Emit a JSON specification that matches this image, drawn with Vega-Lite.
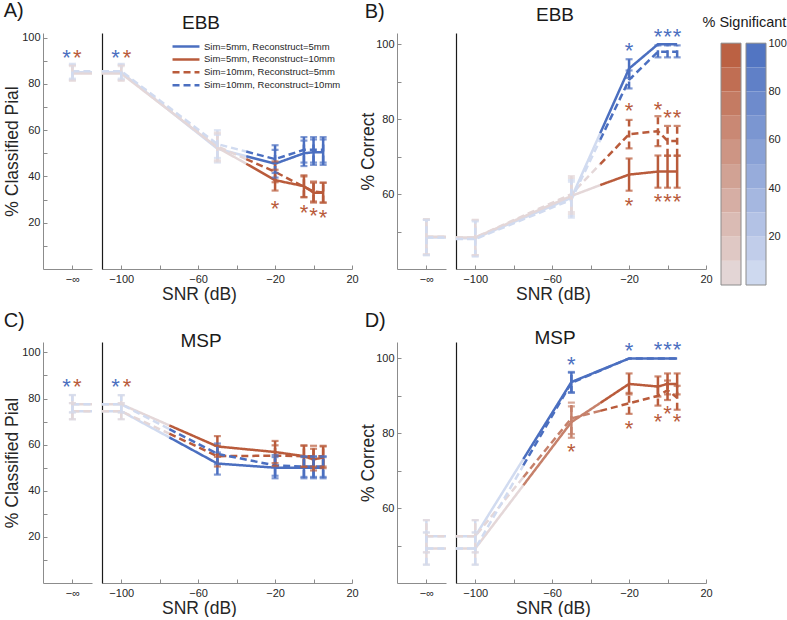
{
 "$schema": "https://vega.github.io/schema/vega-lite/v6.json",
 "background": "white",
 "padding": {"left": 3, "top": 0, "right": 0, "bottom": 0},
 "title": {"text": "% Significant", "anchor": "end", "fontSize": 14.5, "offset": -30, "fontWeight": "normal", "color": "#1a1a1a"},
 "config": {
  "font": "Liberation Sans",
  "view": {"stroke": null},
  "axis": {"grid": false, "domainColor": "#8c8c8c", "tickColor": "#8c8c8c", "tickSize": -4, "labelPadding": 7, "labelColor": "#262626", "labelFontSize": 11, "titleFontSize": 17.5, "titleFontWeight": "normal", "titleColor": "#262626", "labelFlush": false, "labelOverlap": false},
  "axisX": {"labelPadding": 8.5, "titlePadding": 1},
  "title": {"fontWeight": "normal", "color": "#1a1a1a"}
 },
 "datasets": {
  "L": [
   {"p":"A","c":"a","g":"i","r":"i","x":0,"y":85,"s":3},{"p":"A","c":"a","g":"i","r":"i","x":10,"y":85,"s":3},
   {"p":"A","c":"b","g":"i","r":"i","x":0,"y":84.5,"s":-3},{"p":"A","c":"b","g":"i","r":"i","x":10,"y":84.5,"s":-3},
   {"p":"A","c":"c","g":"i","r":"i","x":0,"y":85,"s":-3},{"p":"A","c":"c","g":"i","r":"i","x":10,"y":85,"s":-3},
   {"p":"A","c":"d","g":"i","r":"i","x":0,"y":85.5,"s":3},{"p":"A","c":"d","g":"i","r":"i","x":10,"y":85.5,"s":3},
   {"p":"A","c":"a","g":"m","r":"f","x":-110,"y":85,"s":3},{"p":"A","c":"a","g":"m","r":"f","x":-100,"y":85,"s":3},{"p":"A","c":"a","g":"m","r":"f","x":-50,"y":52,"s":3},{"p":"A","c":"a","g":"m","r":"f","x":-35,"y":48.75,"s":3},
   {"p":"A","c":"b","g":"m","r":"f","x":-110,"y":84.5,"s":-3},{"p":"A","c":"b","g":"m","r":"f","x":-100,"y":84.5,"s":-3},{"p":"A","c":"b","g":"m","r":"f","x":-50,"y":52.5,"s":-3},{"p":"A","c":"b","g":"m","r":"f","x":-35,"y":45.5,"s":-3},
   {"p":"A","c":"c","g":"m","r":"f","x":-110,"y":85,"s":-3},{"p":"A","c":"c","g":"m","r":"f","x":-100,"y":85,"s":-3},{"p":"A","c":"c","g":"m","r":"f","x":-50,"y":53,"s":-3},{"p":"A","c":"c","g":"m","r":"f","x":-35,"y":47.5,"s":-3},
   {"p":"A","c":"d","g":"m","r":"f","x":-110,"y":85.5,"s":3},{"p":"A","c":"d","g":"m","r":"f","x":-100,"y":85.5,"s":3},{"p":"A","c":"d","g":"m","r":"f","x":-50,"y":54,"s":3},{"p":"A","c":"d","g":"m","r":"f","x":-35,"y":50.75,"s":3},
   {"p":"A","c":"a","g":"m","r":"d","x":-35,"y":48.75,"s":100},{"p":"A","c":"a","g":"m","r":"d","x":-20,"y":45.5,"s":100},{"p":"A","c":"a","g":"m","r":"d","x":-5,"y":50,"s":100},{"p":"A","c":"a","g":"m","r":"d","x":0,"y":50.5,"s":100},{"p":"A","c":"a","g":"m","r":"d","x":5,"y":50.5,"s":100},
   {"p":"A","c":"b","g":"m","r":"d","x":-35,"y":45.5,"s":-100},{"p":"A","c":"b","g":"m","r":"d","x":-20,"y":38.4,"s":-100},{"p":"A","c":"b","g":"m","r":"d","x":-5,"y":35.8,"s":-100},{"p":"A","c":"b","g":"m","r":"d","x":0,"y":33,"s":-100},{"p":"A","c":"b","g":"m","r":"d","x":5,"y":33,"s":-100},
   {"p":"A","c":"c","g":"m","r":"d","x":-35,"y":47.5,"s":-100},{"p":"A","c":"c","g":"m","r":"d","x":-20,"y":42,"s":-100},{"p":"A","c":"c","g":"m","r":"d","x":-5,"y":35.5,"s":-100},{"p":"A","c":"c","g":"m","r":"d","x":0,"y":33.5,"s":-100},{"p":"A","c":"c","g":"m","r":"d","x":5,"y":33,"s":-100},
   {"p":"A","c":"d","g":"m","r":"d","x":-35,"y":50.75,"s":100},{"p":"A","c":"d","g":"m","r":"d","x":-20,"y":47.5,"s":100},{"p":"A","c":"d","g":"m","r":"d","x":-5,"y":51.5,"s":100},{"p":"A","c":"d","g":"m","r":"d","x":0,"y":51.5,"s":100},{"p":"A","c":"d","g":"m","r":"d","x":5,"y":51.5,"s":100},

   {"p":"B","c":"a","g":"i","r":"i","x":0,"y":48.4,"s":3},{"p":"B","c":"a","g":"i","r":"i","x":10,"y":48.4,"s":3},
   {"p":"B","c":"b","g":"i","r":"i","x":0,"y":48.6,"s":-3},{"p":"B","c":"b","g":"i","r":"i","x":10,"y":48.6,"s":-3},
   {"p":"B","c":"c","g":"i","r":"i","x":0,"y":48.6,"s":-3},{"p":"B","c":"c","g":"i","r":"i","x":10,"y":48.6,"s":-3},
   {"p":"B","c":"d","g":"i","r":"i","x":0,"y":48.4,"s":3},{"p":"B","c":"d","g":"i","r":"i","x":10,"y":48.4,"s":3},
   {"p":"B","c":"a","g":"m","r":"f","x":-110,"y":48.2,"s":3},{"p":"B","c":"a","g":"m","r":"f","x":-100,"y":48.2,"s":3},{"p":"B","c":"a","g":"m","r":"f","x":-50,"y":59,"s":3},{"p":"B","c":"a","g":"m","r":"f","x":-35,"y":76.25,"s":3},
   {"p":"B","c":"b","g":"m","r":"f","x":-110,"y":48.4,"s":-3},{"p":"B","c":"b","g":"m","r":"f","x":-100,"y":48.4,"s":-3},{"p":"B","c":"b","g":"m","r":"f","x":-50,"y":59.5,"s":-3},{"p":"B","c":"b","g":"m","r":"f","x":-35,"y":62.4,"s":-3},
   {"p":"B","c":"c","g":"m","r":"f","x":-110,"y":48.4,"s":-3},{"p":"B","c":"c","g":"m","r":"f","x":-100,"y":48.4,"s":-3},{"p":"B","c":"c","g":"m","r":"f","x":-50,"y":60,"s":-3},{"p":"B","c":"c","g":"m","r":"f","x":-35,"y":68,"s":-3},
   {"p":"B","c":"d","g":"m","r":"f","x":-110,"y":48,"s":3},{"p":"B","c":"d","g":"m","r":"f","x":-100,"y":48,"s":3},{"p":"B","c":"d","g":"m","r":"f","x":-50,"y":58.5,"s":3},{"p":"B","c":"d","g":"m","r":"f","x":-35,"y":74.5,"s":3},
   {"p":"B","c":"a","g":"m","r":"d","x":-35,"y":76.25,"s":100},{"p":"B","c":"a","g":"m","r":"d","x":-20,"y":93.5,"s":100},{"p":"B","c":"a","g":"m","r":"d","x":-5,"y":100,"s":100},{"p":"B","c":"a","g":"m","r":"d","x":0,"y":100,"s":100},{"p":"B","c":"a","g":"m","r":"d","x":5,"y":100,"s":100},
   {"p":"B","c":"b","g":"m","r":"d","x":-35,"y":62.4,"s":-100},{"p":"B","c":"b","g":"m","r":"d","x":-20,"y":65.2,"s":-100},{"p":"B","c":"b","g":"m","r":"d","x":-5,"y":66,"s":-100},{"p":"B","c":"b","g":"m","r":"d","x":0,"y":66,"s":-100},{"p":"B","c":"b","g":"m","r":"d","x":5,"y":66,"s":-100},
   {"p":"B","c":"c","g":"m","r":"d","x":-35,"y":68,"s":-100},{"p":"B","c":"c","g":"m","r":"d","x":-20,"y":76,"s":-100},{"p":"B","c":"c","g":"m","r":"d","x":-5,"y":76.8,"s":-100},{"p":"B","c":"c","g":"m","r":"d","x":0,"y":74.2,"s":-100},{"p":"B","c":"c","g":"m","r":"d","x":5,"y":74.2,"s":-100},
   {"p":"B","c":"d","g":"m","r":"d","x":-35,"y":74.5,"s":100},{"p":"B","c":"d","g":"m","r":"d","x":-20,"y":90.5,"s":100},{"p":"B","c":"d","g":"m","r":"d","x":-5,"y":98,"s":100},{"p":"B","c":"d","g":"m","r":"d","x":0,"y":98,"s":100},{"p":"B","c":"d","g":"m","r":"d","x":5,"y":98,"s":100},

   {"p":"C","c":"a","g":"i","r":"i","x":0,"y":74.5,"s":3},{"p":"C","c":"a","g":"i","r":"i","x":10,"y":74.5,"s":3},
   {"p":"C","c":"b","g":"i","r":"i","x":0,"y":77.5,"s":-3},{"p":"C","c":"b","g":"i","r":"i","x":10,"y":77.5,"s":-3},
   {"p":"C","c":"c","g":"i","r":"i","x":0,"y":74.5,"s":-3},{"p":"C","c":"c","g":"i","r":"i","x":10,"y":74.5,"s":-3},
   {"p":"C","c":"d","g":"i","r":"i","x":0,"y":77.5,"s":3},{"p":"C","c":"d","g":"i","r":"i","x":10,"y":77.5,"s":3},
   {"p":"C","c":"a","g":"m","r":"f","x":-110,"y":74.5,"s":3},{"p":"C","c":"a","g":"m","r":"f","x":-100,"y":74.5,"s":3},{"p":"C","c":"a","g":"m","r":"f","x":-75,"y":63.15,"s":3},
   {"p":"C","c":"b","g":"m","r":"f","x":-110,"y":77.5,"s":-3},{"p":"C","c":"b","g":"m","r":"f","x":-100,"y":77.5,"s":-3},{"p":"C","c":"b","g":"m","r":"f","x":-75,"y":68.35,"s":-3},
   {"p":"C","c":"c","g":"m","r":"f","x":-110,"y":74.5,"s":-3},{"p":"C","c":"c","g":"m","r":"f","x":-100,"y":74.5,"s":-3},{"p":"C","c":"c","g":"m","r":"f","x":-75,"y":64.75,"s":-3},
   {"p":"C","c":"d","g":"m","r":"f","x":-110,"y":77.5,"s":3},{"p":"C","c":"d","g":"m","r":"f","x":-100,"y":77.5,"s":3},{"p":"C","c":"d","g":"m","r":"f","x":-75,"y":66.75,"s":3},
   {"p":"C","c":"a","g":"m","r":"d","x":-75,"y":63.15,"s":100},{"p":"C","c":"a","g":"m","r":"d","x":-50,"y":51.8,"s":100},{"p":"C","c":"a","g":"m","r":"d","x":-20,"y":50,"s":100},{"p":"C","c":"a","g":"m","r":"d","x":-5,"y":50,"s":100},{"p":"C","c":"a","g":"m","r":"d","x":0,"y":50,"s":100},{"p":"C","c":"a","g":"m","r":"d","x":5,"y":50,"s":100},
   {"p":"C","c":"b","g":"m","r":"d","x":-75,"y":68.35,"s":-100},{"p":"C","c":"b","g":"m","r":"d","x":-50,"y":59.2,"s":-100},{"p":"C","c":"b","g":"m","r":"d","x":-20,"y":56.8,"s":-100},{"p":"C","c":"b","g":"m","r":"d","x":-5,"y":55,"s":-100},{"p":"C","c":"b","g":"m","r":"d","x":0,"y":53.5,"s":-100},{"p":"C","c":"b","g":"m","r":"d","x":5,"y":54.5,"s":-100},
   {"p":"C","c":"c","g":"m","r":"d","x":-75,"y":64.75,"s":-100},{"p":"C","c":"c","g":"m","r":"d","x":-50,"y":55,"s":-100},{"p":"C","c":"c","g":"m","r":"d","x":-20,"y":55.2,"s":-100},{"p":"C","c":"c","g":"m","r":"d","x":-5,"y":55,"s":-100},{"p":"C","c":"c","g":"m","r":"d","x":0,"y":55,"s":-100},{"p":"C","c":"c","g":"m","r":"d","x":5,"y":55,"s":-100},
   {"p":"C","c":"d","g":"m","r":"d","x":-75,"y":66.75,"s":100},{"p":"C","c":"d","g":"m","r":"d","x":-50,"y":56,"s":100},{"p":"C","c":"d","g":"m","r":"d","x":-20,"y":51,"s":100},{"p":"C","c":"d","g":"m","r":"d","x":-5,"y":50.5,"s":100},{"p":"C","c":"d","g":"m","r":"d","x":0,"y":50.5,"s":100},{"p":"C","c":"d","g":"m","r":"d","x":5,"y":50.5,"s":100},

   {"p":"D","c":"a","g":"i","r":"i","x":0,"y":52.5,"s":3},{"p":"D","c":"a","g":"i","r":"i","x":10,"y":52.5,"s":3},
   {"p":"D","c":"b","g":"i","r":"i","x":0,"y":49.2,"s":-3},{"p":"D","c":"b","g":"i","r":"i","x":10,"y":49.2,"s":-3},
   {"p":"D","c":"c","g":"i","r":"i","x":0,"y":52.5,"s":-3},{"p":"D","c":"c","g":"i","r":"i","x":10,"y":52.5,"s":-3},
   {"p":"D","c":"d","g":"i","r":"i","x":0,"y":49.2,"s":3},{"p":"D","c":"d","g":"i","r":"i","x":10,"y":49.2,"s":3},
   {"p":"D","c":"a","g":"m","r":"f","x":-110,"y":52.5,"s":3},{"p":"D","c":"a","g":"m","r":"f","x":-100,"y":52.5,"s":3},{"p":"D","c":"a","g":"m","r":"f","x":-75,"y":73.1,"s":3},
   {"p":"D","c":"b","g":"m","r":"f","x":-110,"y":49.2,"s":-3},{"p":"D","c":"b","g":"m","r":"f","x":-100,"y":49.2,"s":-3},{"p":"D","c":"b","g":"m","r":"f","x":-75,"y":66.1,"s":-3},
   {"p":"D","c":"c","g":"m","r":"f","x":-110,"y":52.5,"s":-3},{"p":"D","c":"c","g":"m","r":"f","x":-100,"y":52.5,"s":-3},{"p":"D","c":"c","g":"m","r":"f","x":-75,"y":68.25,"s":-3},
   {"p":"D","c":"d","g":"m","r":"f","x":-110,"y":49.2,"s":3},{"p":"D","c":"d","g":"m","r":"f","x":-100,"y":49.2,"s":3},{"p":"D","c":"d","g":"m","r":"f","x":-75,"y":71.4,"s":3},
   {"p":"D","c":"b","g":"m","r":"m","x":-75,"y":66.1,"s":-70},{"p":"D","c":"b","g":"m","r":"m","x":-50,"y":83,"s":-70},{"p":"D","c":"b","g":"m","r":"m","x":-35,"y":88.1,"s":-70},
   {"p":"D","c":"c","g":"m","r":"m","x":-75,"y":68.25,"s":-70},{"p":"D","c":"c","g":"m","r":"m","x":-50,"y":84,"s":-70},{"p":"D","c":"c","g":"m","r":"m","x":-35,"y":86,"s":-70},
   {"p":"D","c":"a","g":"m","r":"d","x":-75,"y":73.1,"s":100},{"p":"D","c":"a","g":"m","r":"d","x":-50,"y":93.7,"s":100},{"p":"D","c":"a","g":"m","r":"d","x":-20,"y":100,"s":100},{"p":"D","c":"a","g":"m","r":"d","x":-5,"y":100,"s":100},{"p":"D","c":"a","g":"m","r":"d","x":0,"y":100,"s":100},{"p":"D","c":"a","g":"m","r":"d","x":5,"y":100,"s":100},
   {"p":"D","c":"b","g":"m","r":"d","x":-35,"y":88.1,"s":-100},{"p":"D","c":"b","g":"m","r":"d","x":-20,"y":93.2,"s":-100},{"p":"D","c":"b","g":"m","r":"d","x":-5,"y":92.5,"s":-100},{"p":"D","c":"b","g":"m","r":"d","x":0,"y":93.2,"s":-100},{"p":"D","c":"b","g":"m","r":"d","x":5,"y":93.2,"s":-100},
   {"p":"D","c":"c","g":"m","r":"d","x":-35,"y":86,"s":-100},{"p":"D","c":"c","g":"m","r":"d","x":-20,"y":88,"s":-100},{"p":"D","c":"c","g":"m","r":"d","x":-5,"y":90,"s":-100},{"p":"D","c":"c","g":"m","r":"d","x":0,"y":91.5,"s":-100},{"p":"D","c":"c","g":"m","r":"d","x":5,"y":89.5,"s":-100},
   {"p":"D","c":"d","g":"m","r":"d","x":-75,"y":71.4,"s":100},{"p":"D","c":"d","g":"m","r":"d","x":-50,"y":93.5,"s":100},{"p":"D","c":"d","g":"m","r":"d","x":-20,"y":100,"s":100},{"p":"D","c":"d","g":"m","r":"d","x":-5,"y":100,"s":100},{"p":"D","c":"d","g":"m","r":"d","x":0,"y":100,"s":100},{"p":"D","c":"d","g":"m","r":"d","x":5,"y":100,"s":100}
  ],
  "E": [
   {"p":"A","c":"a","g":"i","x":0,"lo":81.8,"hi":88.2,"s":3},{"p":"A","c":"b","g":"i","x":0,"lo":81.3,"hi":87.7,"s":-3},{"p":"A","c":"c","g":"i","x":0,"lo":81.8,"hi":88.2,"s":-3},{"p":"A","c":"d","g":"i","x":0,"lo":82.3,"hi":88.7,"s":3},
   {"p":"A","c":"a","g":"m","x":-100,"lo":81.8,"hi":88.2,"s":3},{"p":"A","c":"a","g":"m","x":-50,"lo":46,"hi":58,"s":3},{"p":"A","c":"a","g":"m","x":-20,"lo":39.5,"hi":51.5,"s":100},{"p":"A","c":"a","g":"m","x":-5,"lo":44.5,"hi":55.5,"s":100},{"p":"A","c":"a","g":"m","x":0,"lo":45,"hi":56,"s":100},{"p":"A","c":"a","g":"m","x":5,"lo":45,"hi":56,"s":100},
   {"p":"A","c":"b","g":"m","x":-100,"lo":81.3,"hi":87.7,"s":-3},{"p":"A","c":"b","g":"m","x":-50,"lo":46.5,"hi":58.5,"s":-3},{"p":"A","c":"b","g":"m","x":-20,"lo":33.9,"hi":42.9,"s":-100},{"p":"A","c":"b","g":"m","x":-5,"lo":31.1,"hi":40.5,"s":-100},{"p":"A","c":"b","g":"m","x":0,"lo":28.7,"hi":37.3,"s":-100},{"p":"A","c":"b","g":"m","x":5,"lo":28.7,"hi":37.3,"s":-100},
   {"p":"A","c":"c","g":"m","x":-100,"lo":81.8,"hi":88.2,"s":-3},{"p":"A","c":"c","g":"m","x":-50,"lo":47,"hi":59,"s":-3},{"p":"A","c":"c","g":"m","x":-20,"lo":37.5,"hi":46.5,"s":-100},{"p":"A","c":"c","g":"m","x":-5,"lo":31,"hi":40,"s":-100},{"p":"A","c":"c","g":"m","x":0,"lo":29.2,"hi":37.8,"s":-100},{"p":"A","c":"c","g":"m","x":5,"lo":28.7,"hi":37.3,"s":-100},
   {"p":"A","c":"d","g":"m","x":-100,"lo":82.3,"hi":88.7,"s":3},{"p":"A","c":"d","g":"m","x":-50,"lo":48,"hi":60,"s":3},{"p":"A","c":"d","g":"m","x":-20,"lo":41.5,"hi":53.5,"s":100},{"p":"A","c":"d","g":"m","x":-5,"lo":46,"hi":57,"s":100},{"p":"A","c":"d","g":"m","x":0,"lo":46,"hi":57,"s":100},{"p":"A","c":"d","g":"m","x":5,"lo":46,"hi":57,"s":100},

   {"p":"B","c":"a","g":"i","x":0,"lo":43.7,"hi":53.1,"s":3},{"p":"B","c":"b","g":"i","x":0,"lo":43.9,"hi":53.3,"s":-3},{"p":"B","c":"c","g":"i","x":0,"lo":43.9,"hi":53.3,"s":-3},{"p":"B","c":"d","g":"i","x":0,"lo":43.7,"hi":53.1,"s":3},
   {"p":"B","c":"a","g":"m","x":-100,"lo":43.5,"hi":52.9,"s":3},{"p":"B","c":"a","g":"m","x":-50,"lo":54.2,"hi":63.8,"s":3},{"p":"B","c":"a","g":"m","x":-20,"lo":91,"hi":96,"s":100},
   {"p":"B","c":"b","g":"m","x":-100,"lo":43.7,"hi":53.1,"s":-3},{"p":"B","c":"b","g":"m","x":-50,"lo":54.7,"hi":64.3,"s":-3},{"p":"B","c":"b","g":"m","x":-20,"lo":60.9,"hi":69.5,"s":-100},{"p":"B","c":"b","g":"m","x":-5,"lo":61.7,"hi":70.3,"s":-100},{"p":"B","c":"b","g":"m","x":0,"lo":61.7,"hi":70.3,"s":-100},{"p":"B","c":"b","g":"m","x":5,"lo":61.7,"hi":70.3,"s":-100},
   {"p":"B","c":"c","g":"m","x":-100,"lo":43.7,"hi":53.1,"s":-3},{"p":"B","c":"c","g":"m","x":-50,"lo":55.2,"hi":64.8,"s":-3},{"p":"B","c":"c","g":"m","x":-20,"lo":72.2,"hi":79.8,"s":-100},{"p":"B","c":"c","g":"m","x":-5,"lo":72.8,"hi":80.8,"s":-100},{"p":"B","c":"c","g":"m","x":0,"lo":70.2,"hi":78.2,"s":-100},{"p":"B","c":"c","g":"m","x":5,"lo":70.2,"hi":78.2,"s":-100},
   {"p":"B","c":"d","g":"m","x":-100,"lo":43.3,"hi":52.7,"s":3},{"p":"B","c":"d","g":"m","x":-50,"lo":53.7,"hi":63.3,"s":3},{"p":"B","c":"d","g":"m","x":-20,"lo":88.2,"hi":93,"s":100},{"p":"B","c":"d","g":"m","x":-5,"lo":96.5,"hi":99.7,"s":100},{"p":"B","c":"d","g":"m","x":0,"lo":96.5,"hi":99.7,"s":100},{"p":"B","c":"d","g":"m","x":5,"lo":96.5,"hi":99.7,"s":100},

   {"p":"C","c":"a","g":"i","x":0,"lo":71,"hi":78,"s":3},{"p":"C","c":"b","g":"i","x":0,"lo":74,"hi":81.5,"s":-3},{"p":"C","c":"c","g":"i","x":0,"lo":71,"hi":78,"s":-3},{"p":"C","c":"d","g":"i","x":0,"lo":74,"hi":81.5,"s":3},
   {"p":"C","c":"a","g":"m","x":-100,"lo":71,"hi":78,"s":3},{"p":"C","c":"a","g":"m","x":-50,"lo":47,"hi":56.6,"s":100},{"p":"C","c":"a","g":"m","x":-20,"lo":45.4,"hi":54.6,"s":100},{"p":"C","c":"a","g":"m","x":-5,"lo":45.4,"hi":54.6,"s":100},{"p":"C","c":"a","g":"m","x":0,"lo":45.4,"hi":54.6,"s":100},{"p":"C","c":"a","g":"m","x":5,"lo":45.4,"hi":54.6,"s":100},
   {"p":"C","c":"b","g":"m","x":-100,"lo":74,"hi":81.5,"s":-3},{"p":"C","c":"b","g":"m","x":-50,"lo":54.7,"hi":63.7,"s":-100},{"p":"C","c":"b","g":"m","x":-20,"lo":52,"hi":61.6,"s":-100},{"p":"C","c":"b","g":"m","x":-5,"lo":50.3,"hi":59.7,"s":-100},{"p":"C","c":"b","g":"m","x":0,"lo":48.8,"hi":58.2,"s":-100},{"p":"C","c":"b","g":"m","x":5,"lo":49.8,"hi":59.2,"s":-100},
   {"p":"C","c":"c","g":"m","x":-100,"lo":71,"hi":78,"s":-3},{"p":"C","c":"c","g":"m","x":-50,"lo":50.5,"hi":59.5,"s":-100},{"p":"C","c":"c","g":"m","x":-20,"lo":50.7,"hi":59.7,"s":-100},{"p":"C","c":"c","g":"m","x":-5,"lo":50.5,"hi":59.5,"s":-100},{"p":"C","c":"c","g":"m","x":0,"lo":50.5,"hi":59.5,"s":-100},{"p":"C","c":"c","g":"m","x":5,"lo":50.5,"hi":59.5,"s":-100},
   {"p":"C","c":"d","g":"m","x":-100,"lo":74,"hi":81.5,"s":3},{"p":"C","c":"d","g":"m","x":-50,"lo":51.5,"hi":60.5,"s":100},{"p":"C","c":"d","g":"m","x":-20,"lo":46.5,"hi":55.5,"s":100},{"p":"C","c":"d","g":"m","x":-5,"lo":46,"hi":55,"s":100},{"p":"C","c":"d","g":"m","x":0,"lo":46,"hi":55,"s":100},{"p":"C","c":"d","g":"m","x":5,"lo":46,"hi":55,"s":100},

   {"p":"D","c":"a","g":"i","x":0,"lo":48.2,"hi":56.8,"s":3},{"p":"D","c":"b","g":"i","x":0,"lo":44.9,"hi":53.5,"s":-3},{"p":"D","c":"c","g":"i","x":0,"lo":48.2,"hi":56.8,"s":-3},{"p":"D","c":"d","g":"i","x":0,"lo":44.9,"hi":53.5,"s":3},
   {"p":"D","c":"a","g":"m","x":-100,"lo":48.2,"hi":56.8,"s":3},{"p":"D","c":"a","g":"m","x":-50,"lo":91,"hi":96.4,"s":100},
   {"p":"D","c":"b","g":"m","x":-100,"lo":44.9,"hi":53.5,"s":-3},{"p":"D","c":"b","g":"m","x":-50,"lo":78.8,"hi":87.2,"s":-70},{"p":"D","c":"b","g":"m","x":-20,"lo":90.4,"hi":96,"s":-100},{"p":"D","c":"b","g":"m","x":-5,"lo":89.8,"hi":95.2,"s":-100},{"p":"D","c":"b","g":"m","x":0,"lo":90.4,"hi":96,"s":-100},{"p":"D","c":"b","g":"m","x":5,"lo":90.4,"hi":96,"s":-100},
   {"p":"D","c":"c","g":"m","x":-100,"lo":48.2,"hi":56.8,"s":-3},{"p":"D","c":"c","g":"m","x":-50,"lo":79.8,"hi":88.2,"s":-70},{"p":"D","c":"c","g":"m","x":-20,"lo":85.2,"hi":90.8,"s":-100},{"p":"D","c":"c","g":"m","x":-5,"lo":87.4,"hi":92.6,"s":-100},{"p":"D","c":"c","g":"m","x":0,"lo":88.9,"hi":94.1,"s":-100},{"p":"D","c":"c","g":"m","x":5,"lo":86.3,"hi":92.7,"s":-100},
   {"p":"D","c":"d","g":"m","x":-100,"lo":44.9,"hi":53.5,"s":3},{"p":"D","c":"d","g":"m","x":-50,"lo":90.8,"hi":96.2,"s":100}
  ],
  "S": [
   {"p":"A","g":"i","x":-3,"y":93.5,"s":100},{"p":"A","g":"i","x":2.5,"y":93.5,"s":-100},
   {"p":"A","g":"m","x":-103,"y":93.5,"s":100},{"p":"A","g":"m","x":-97,"y":93.5,"s":-100},{"p":"A","g":"m","x":-20,"y":28,"s":-100},{"p":"A","g":"m","x":-5,"y":26.5,"s":-100},{"p":"A","g":"m","x":0,"y":25,"s":-100},{"p":"A","g":"m","x":5,"y":24,"s":-100},
   {"p":"B","g":"m","x":-20,"y":99.4,"s":100},{"p":"B","g":"m","x":-5,"y":103.4,"s":100},{"p":"B","g":"m","x":0,"y":103.4,"s":100},{"p":"B","g":"m","x":5,"y":103.4,"s":100},
   {"p":"B","g":"m","x":-20,"y":83.4,"s":-100},{"p":"B","g":"m","x":-5,"y":83.8,"s":-100},{"p":"B","g":"m","x":0,"y":81.6,"s":-100},{"p":"B","g":"m","x":5,"y":81.6,"s":-100},
   {"p":"B","g":"m","x":-20,"y":58.1,"s":-100},{"p":"B","g":"m","x":-5,"y":59.2,"s":-100},{"p":"B","g":"m","x":0,"y":59.2,"s":-100},{"p":"B","g":"m","x":5,"y":59.2,"s":-100},
   {"p":"C","g":"i","x":-3,"y":87,"s":100},{"p":"C","g":"i","x":2.5,"y":87,"s":-100},
   {"p":"C","g":"m","x":-103,"y":87,"s":100},{"p":"C","g":"m","x":-97,"y":87,"s":-100},
   {"p":"D","g":"m","x":-50,"y":99.5,"s":100},{"p":"D","g":"m","x":-20,"y":103.3,"s":100},{"p":"D","g":"m","x":-5,"y":103.5,"s":100},{"p":"D","g":"m","x":0,"y":103.5,"s":100},{"p":"D","g":"m","x":5,"y":103.5,"s":100},
   {"p":"D","g":"m","x":-50,"y":76.4,"s":-100},{"p":"D","g":"m","x":-20,"y":82.6,"s":-100},{"p":"D","g":"m","x":-5,"y":84.4,"s":-100},{"p":"D","g":"m","x":0,"y":86.6,"s":-100},{"p":"D","g":"m","x":5,"y":84.4,"s":-100}
  ],
  "CB": [
   {"bar":"r","lo":0,"hi":10,"s":-5},{"bar":"r","lo":10,"hi":20,"s":-15},{"bar":"r","lo":20,"hi":30,"s":-25},{"bar":"r","lo":30,"hi":40,"s":-35},{"bar":"r","lo":40,"hi":50,"s":-45},{"bar":"r","lo":50,"hi":60,"s":-55},{"bar":"r","lo":60,"hi":70,"s":-65},{"bar":"r","lo":70,"hi":80,"s":-75},{"bar":"r","lo":80,"hi":90,"s":-85},{"bar":"r","lo":90,"hi":100,"s":-95},
   {"bar":"b","lo":0,"hi":10,"s":5},{"bar":"b","lo":10,"hi":20,"s":15},{"bar":"b","lo":20,"hi":30,"s":25},{"bar":"b","lo":30,"hi":40,"s":35},{"bar":"b","lo":40,"hi":50,"s":45},{"bar":"b","lo":50,"hi":60,"s":55},{"bar":"b","lo":60,"hi":70,"s":65},{"bar":"b","lo":70,"hi":80,"s":75},{"bar":"b","lo":80,"hi":90,"s":85},{"bar":"b","lo":90,"hi":100,"s":95}
  ]
 },
 "spacing": 8,
 "resolve": {"scale": {"strokeDash": "independent", "stroke": "independent"}},
 "vconcat": [
  {
   "spacing": 7,
   "resolve": {"scale": {"strokeDash": "independent", "stroke": "independent"}},
   "hconcat": [
    {
     "spacing": 0,
     "resolve": {"scale": {"strokeDash": "independent", "stroke": "independent"}},
     "hconcat": [
      {
       "spacing": 0,
       "resolve": {"scale": {"strokeDash": "independent", "stroke": "independent"}},
       "hconcat": [
        {
         "width": 49, "height": 236,
         "title": {"text": "A)", "anchor": "start", "frame": "bounds", "fontSize": 20, "offset": 11, "dx": 0},
         "encoding": {"x": {"field": "x", "type": "quantitative", "scale": {"domain": [-15, 10], "nice": false, "zero": false}, "axis": {"values": [0], "labelExpr": "'−∞'", "title": null}}},
         "layer": [
          {"data": {"name": "L"}, "transform": [{"filter": "datum.p=='A'&&datum.g=='i'"}], "mark": {"type": "line", "strokeWidth": 2.5}, "encoding": {"y": {"field": "y", "type": "quantitative", "title": "% Classified Pial", "scale": {"domain": [0, 102], "nice": false, "zero": false}, "axis": {"values": [10,20,30,40,50,60,70,80,90,100], "labelExpr": "datum.value % 20 == 0 ? '' + datum.value : ''", "titlePadding": 0}}, "color": {"field":"s","type":"quantitative","scale":{"domain":[-100,-1,1,100],"range":["#b95b3b","#e5dadb","#d4ddf1","#4b6fc0"],"interpolate":"rgb"},"legend":null}, "strokeDash": {"field":"c","type":"nominal","scale":{"domain":["a","b","c","d"],"range":[[1,0],[1,0],[7,4],[7,4]]},"legend":null}, "detail": {"field": "r"}}},
          {"data": {"name": "E"}, "transform": [{"filter": "datum.p=='A'&&datum.g=='i'"}], "mark": {"type": "rule", "strokeWidth": 2.5}, "encoding": {"y": {"field": "lo", "type": "quantitative", "title": "% Classified Pial", "axis": {"values": [10,20,30,40,50,60,70,80,90,100], "labelExpr": "datum.value % 20 == 0 ? '' + datum.value : ''", "titlePadding": 0}}, "y2": {"field": "hi"}, "color": {"field":"s","type":"quantitative","legend":null}, "strokeDash": {"field":"c","type":"nominal","legend":null}}},
          {"data": {"name": "E"}, "transform": [{"filter": "datum.p=='A'&&datum.g=='i'"}], "mark": {"type": "tick", "orient": "horizontal", "size": 7, "thickness": 2.2}, "encoding": {"y": {"field": "lo", "type": "quantitative", "title": "% Classified Pial", "axis": {"values": [10,20,30,40,50,60,70,80,90,100], "labelExpr": "datum.value % 20 == 0 ? '' + datum.value : ''", "titlePadding": 0}}, "color": {"field":"s","type":"quantitative","legend":null}}},
          {"data": {"name": "E"}, "transform": [{"filter": "datum.p=='A'&&datum.g=='i'"}], "mark": {"type": "tick", "orient": "horizontal", "size": 7, "thickness": 2.2}, "encoding": {"y": {"field": "hi", "type": "quantitative", "title": "% Classified Pial", "axis": {"values": [10,20,30,40,50,60,70,80,90,100], "labelExpr": "datum.value % 20 == 0 ? '' + datum.value : ''", "titlePadding": 0}}, "color": {"field":"s","type":"quantitative","legend":null}}},
          {"data": {"name": "S"}, "transform": [{"filter": "datum.p=='A'&&datum.g=='i'"}], "mark": {"type": "text", "text": "*", "fontSize": 22, "dy": 5}, "encoding": {"y": {"field": "y", "type": "quantitative", "title": "% Classified Pial", "axis": {"values": [10,20,30,40,50,60,70,80,90,100], "labelExpr": "datum.value % 20 == 0 ? '' + datum.value : ''", "titlePadding": 0}}, "color": {"field":"s","type":"quantitative","legend":null}}},
          {"data": {"values": [{}]}, "mark": {"type": "rule", "color": "#555555", "strokeWidth": 1.2}, "encoding": {"x": {"datum": 10}}}
         ]
        },
        {
         "width": 250, "height": 236,
         "title": {"text": "EBB", "fontSize": 19, "anchor": "middle", "dx": -26, "offset": 0.5},
         "encoding": {"x": {"field": "x", "type": "quantitative", "scale": {"domain": [-110, 20], "nice": false, "zero": false}, "axis": {"values": [-100,-80,-60,-40,-20,0,20], "labelExpr": "indexof([-100,-60,-20,20], datum.value) >= 0 ? (datum.value < 0 ? '−' + (-datum.value) : '' + datum.value) : ''", "title": "SNR (dB)", "titleX": 97}}},
         "layer": [
          {"data": {"name": "L"}, "transform": [{"filter": "datum.p=='A'&&datum.g=='m'&&datum.r!='d'"}], "mark": {"type": "line", "strokeWidth": 2.5}, "encoding": {"y": {"field": "y", "type": "quantitative", "title": null, "scale": {"domain": [0, 102], "nice": false, "zero": false}, "axis": {"labels": false, "ticks": false, "domainColor": "#1a1a1a", "domainWidth": 1.2}}, "color": {"field":"s","type":"quantitative","scale":{"domain":[-100,-1,1,100],"range":["#b95b3b","#e5dadb","#d4ddf1","#4b6fc0"],"interpolate":"rgb"},"legend":null},
            "strokeDash": {"field":"c","type":"nominal","scale":{"domain":["a","b","c","d"],"range":[[1,0],[1,0],[7,4],[7,4]]}, "legend": {"title": null, "orient": "none", "legendX": 77, "legendY": 6.5, "symbolType": "M-2.45,0H2.45", "symbolSize": 121, "symbolStrokeWidth": 2.5, "labelFontSize": 9.5, "labelColor": "#262626", "labelOffset": 11, "rowPadding": 0.9, "labelExpr": "datum.label == 'a' ? 'Sim=5mm, Reconstruct=5mm' : datum.label == 'b' ? 'Sim=5mm, Reconstruct=10mm' : datum.label == 'c' ? 'Sim=10mm, Reconstruct=5mm' : 'Sim=10mm, Reconstruct=10mm'"}}, "detail": {"field": "r"}}},
          {"data": {"name": "L"}, "transform": [{"filter": "datum.p=='A'&&datum.g=='m'&&datum.r=='d'"}], "mark": {"type": "line", "strokeWidth": 2.5}, "encoding": {"y": {"field": "y", "type": "quantitative", "title": null},
            "stroke": {"field": "c", "type": "nominal", "scale": {"domain": ["a","b","c","d"], "range": ["#4b6fc0","#b95b3b","#b95b3b","#4b6fc0"]}, "legend": {"title": null, "orient": "none", "legendX": 77, "legendY": 6.5, "symbolType": "M-2.45,0H2.45", "symbolSize": 121, "symbolStrokeWidth": 2.5, "labelFontSize": 9.5, "labelColor": "#262626", "labelOffset": 11, "rowPadding": 0.9, "labelExpr": "datum.label == 'a' ? 'Sim=5mm, Reconstruct=5mm' : datum.label == 'b' ? 'Sim=5mm, Reconstruct=10mm' : datum.label == 'c' ? 'Sim=10mm, Reconstruct=5mm' : 'Sim=10mm, Reconstruct=10mm'"}},
            "strokeDash": {"field": "c", "type": "nominal", "legend": {"title": null, "orient": "none", "legendX": 77, "legendY": 6.5, "symbolType": "M-2.45,0H2.45", "symbolSize": 121, "symbolStrokeWidth": 2.5, "labelFontSize": 9.5, "labelColor": "#262626", "labelOffset": 11, "rowPadding": 0.9, "labelExpr": "datum.label == 'a' ? 'Sim=5mm, Reconstruct=5mm' : datum.label == 'b' ? 'Sim=5mm, Reconstruct=10mm' : datum.label == 'c' ? 'Sim=10mm, Reconstruct=5mm' : 'Sim=10mm, Reconstruct=10mm'"}}}},
          {"data": {"name": "E"}, "transform": [{"filter": "datum.p=='A'&&datum.g=='m'"}], "mark": {"type": "rule", "strokeWidth": 2.5}, "encoding": {"y": {"field": "lo", "type": "quantitative", "title": null}, "y2": {"field": "hi"}, "color": {"field":"s","type":"quantitative","legend":null},
            "strokeDash": {"field":"c","type":"nominal", "legend": {"title": null, "orient": "none", "legendX": 77, "legendY": 6.5, "symbolType": "M-2.45,0H2.45", "symbolSize": 121, "symbolStrokeWidth": 2.5, "labelFontSize": 9.5, "labelColor": "#262626", "labelOffset": 11, "rowPadding": 0.9, "labelExpr": "datum.label == 'a' ? 'Sim=5mm, Reconstruct=5mm' : datum.label == 'b' ? 'Sim=5mm, Reconstruct=10mm' : datum.label == 'c' ? 'Sim=10mm, Reconstruct=5mm' : 'Sim=10mm, Reconstruct=10mm'"}}}},
          {"data": {"name": "E"}, "transform": [{"filter": "datum.p=='A'&&datum.g=='m'"}], "mark": {"type": "tick", "orient": "horizontal", "size": 7, "thickness": 2.2}, "encoding": {"y": {"field": "lo", "type": "quantitative", "title": null}, "color": {"field":"s","type":"quantitative","legend":null}}},
          {"data": {"name": "E"}, "transform": [{"filter": "datum.p=='A'&&datum.g=='m'"}], "mark": {"type": "tick", "orient": "horizontal", "size": 7, "thickness": 2.2}, "encoding": {"y": {"field": "hi", "type": "quantitative", "title": null}, "color": {"field":"s","type":"quantitative","legend":null}}},
          {"data": {"name": "S"}, "transform": [{"filter": "datum.p=='A'&&datum.g=='m'"}], "mark": {"type": "text", "text": "*", "fontSize": 22, "dy": 5}, "encoding": {"y": {"field": "y", "type": "quantitative", "title": null}, "color": {"field":"s","type":"quantitative","legend":null}}}
         ]
        }
       ]
      },
      {
       "spacing": 0,
       "resolve": {"scale": {"strokeDash": "independent", "stroke": "independent"}},
       "hconcat": [
        {
         "width": 49, "height": 236,
         "title": {"text": "B)", "anchor": "start", "frame": "bounds", "fontSize": 20, "offset": 11, "dx": 5},
         "encoding": {"x": {"field": "x", "type": "quantitative", "scale": {"domain": [-15, 10], "nice": false, "zero": false}, "axis": {"values": [0], "labelExpr": "'−∞'", "title": null}}},
         "layer": [
          {"data": {"name": "L"}, "transform": [{"filter": "datum.p=='B'&&datum.g=='i'"}], "mark": {"type": "line", "strokeWidth": 2.5}, "encoding": {"y": {"field": "y", "type": "quantitative", "title": "% Correct", "scale": {"domain": [40, 103], "nice": false, "zero": false}, "axis": {"values": [50,60,70,80,90,100], "labelExpr": "datum.value % 20 == 0 ? '' + datum.value : ''", "titlePadding": -2}}, "color": {"field":"s","type":"quantitative","scale":{"domain":[-100,-1,1,100],"range":["#b95b3b","#e5dadb","#d4ddf1","#4b6fc0"],"interpolate":"rgb"},"legend":null}, "strokeDash": {"field":"c","type":"nominal","scale":{"domain":["a","b","c","d"],"range":[[1,0],[1,0],[7,4],[7,4]]},"legend":null}, "detail": {"field": "r"}}},
          {"data": {"name": "E"}, "transform": [{"filter": "datum.p=='B'&&datum.g=='i'"}], "mark": {"type": "rule", "strokeWidth": 2.5}, "encoding": {"y": {"field": "lo", "type": "quantitative", "title": "% Correct", "axis": {"values": [50,60,70,80,90,100], "labelExpr": "datum.value % 20 == 0 ? '' + datum.value : ''", "titlePadding": -2}}, "y2": {"field": "hi"}, "color": {"field":"s","type":"quantitative","legend":null}, "strokeDash": {"field":"c","type":"nominal","legend":null}}},
          {"data": {"name": "E"}, "transform": [{"filter": "datum.p=='B'&&datum.g=='i'"}], "mark": {"type": "tick", "orient": "horizontal", "size": 7, "thickness": 2.2}, "encoding": {"y": {"field": "lo", "type": "quantitative", "title": "% Correct", "axis": {"values": [50,60,70,80,90,100], "labelExpr": "datum.value % 20 == 0 ? '' + datum.value : ''", "titlePadding": -2}}, "color": {"field":"s","type":"quantitative","legend":null}}},
          {"data": {"name": "E"}, "transform": [{"filter": "datum.p=='B'&&datum.g=='i'"}], "mark": {"type": "tick", "orient": "horizontal", "size": 7, "thickness": 2.2}, "encoding": {"y": {"field": "hi", "type": "quantitative", "title": "% Correct", "axis": {"values": [50,60,70,80,90,100], "labelExpr": "datum.value % 20 == 0 ? '' + datum.value : ''", "titlePadding": -2}}, "color": {"field":"s","type":"quantitative","legend":null}}},
          {"data": {"values": [{}]}, "mark": {"type": "rule", "color": "#555555", "strokeWidth": 1.2}, "encoding": {"x": {"datum": 10}}}
         ]
        },
        {
         "width": 250, "height": 236,
         "title": {"text": "EBB", "fontSize": 19, "anchor": "middle", "dx": -26, "offset": 0.5},
         "encoding": {"x": {"field": "x", "type": "quantitative", "scale": {"domain": [-110, 20], "nice": false, "zero": false}, "axis": {"values": [-100,-80,-60,-40,-20,0,20], "labelExpr": "indexof([-100,-60,-20,20], datum.value) >= 0 ? (datum.value < 0 ? '−' + (-datum.value) : '' + datum.value) : ''", "title": "SNR (dB)", "titleX": 97}}},
         "layer": [
          {"data": {"name": "L"}, "transform": [{"filter": "datum.p=='B'&&datum.g=='m'"}], "mark": {"type": "line", "strokeWidth": 2.5}, "encoding": {"y": {"field": "y", "type": "quantitative", "title": null, "scale": {"domain": [40, 103], "nice": false, "zero": false}, "axis": {"labels": false, "ticks": false, "domainColor": "#1a1a1a", "domainWidth": 1.2}}, "color": {"field":"s","type":"quantitative","scale":{"domain":[-100,-1,1,100],"range":["#b95b3b","#e5dadb","#d4ddf1","#4b6fc0"],"interpolate":"rgb"},"legend":null}, "strokeDash": {"field":"c","type":"nominal","scale":{"domain":["a","b","c","d"],"range":[[1,0],[1,0],[7,4],[7,4]]},"legend":null}, "detail": {"field": "r"}}},
          {"data": {"name": "E"}, "transform": [{"filter": "datum.p=='B'&&datum.g=='m'"}], "mark": {"type": "rule", "strokeWidth": 2.5}, "encoding": {"y": {"field": "lo", "type": "quantitative", "title": null}, "y2": {"field": "hi"}, "color": {"field":"s","type":"quantitative","legend":null}, "strokeDash": {"field":"c","type":"nominal","legend":null}}},
          {"data": {"name": "E"}, "transform": [{"filter": "datum.p=='B'&&datum.g=='m'"}], "mark": {"type": "tick", "orient": "horizontal", "size": 7, "thickness": 2.2}, "encoding": {"y": {"field": "lo", "type": "quantitative", "title": null}, "color": {"field":"s","type":"quantitative","legend":null}}},
          {"data": {"name": "E"}, "transform": [{"filter": "datum.p=='B'&&datum.g=='m'"}], "mark": {"type": "tick", "orient": "horizontal", "size": 7, "thickness": 2.2}, "encoding": {"y": {"field": "hi", "type": "quantitative", "title": null}, "color": {"field":"s","type":"quantitative","legend":null}}},
          {"data": {"name": "S"}, "transform": [{"filter": "datum.p=='B'&&datum.g=='m'"}], "mark": {"type": "text", "text": "*", "fontSize": 22, "dy": 5}, "encoding": {"y": {"field": "y", "type": "quantitative", "title": null}, "color": {"field":"s","type":"quantitative","legend":null}}}
         ]
        }
       ]
      }
     ]
    },
    {
     "width": 45, "height": 252,
     "data": {"name": "CB"},
     "layer": [
      {"mark": {"type": "rect"}, "encoding": {
        "x": {"field": "bar", "type": "nominal", "scale": {"domain": ["r","b"], "paddingInner": 0.2, "paddingOuter": 0}, "axis": null},
        "y": {"field": "lo", "type": "quantitative", "scale": {"domain": [0, 104.2], "nice": false, "zero": false}, "axis": {"orient": "right", "values": [20,40,60,80,100], "domain": false, "ticks": false, "labelPadding": 2, "title": null}},
        "y2": {"field": "hi"},
        "color": {"field":"s","type":"quantitative","scale":{"domain":[-100,-1,1,100],"range":["#b95b3b","#e5dadb","#d4ddf1","#4b6fc0"],"interpolate":"rgb"},"legend":null}}},
      {"transform": [{"aggregate": [{"op": "min", "field": "lo", "as": "lo"}, {"op": "max", "field": "hi", "as": "hi"}], "groupby": ["bar"]}],
       "mark": {"type": "rect", "fillOpacity": 0, "stroke": "#8c8c8c", "strokeWidth": 1},
       "encoding": {"x": {"field": "bar", "type": "nominal"}, "y": {"field": "lo", "type": "quantitative"}, "y2": {"field": "hi"}}}
     ]
    }
   ]
  },
  {
   "spacing": 0,
   "resolve": {"scale": {"strokeDash": "independent", "stroke": "independent"}},
   "hconcat": [
    {
     "spacing": 0,
     "resolve": {"scale": {"strokeDash": "independent", "stroke": "independent"}},
     "hconcat": [
      {
       "width": 49, "height": 241,
       "title": {"text": "C)", "anchor": "start", "frame": "bounds", "fontSize": 20, "offset": 11, "dx": 0},
       "encoding": {"x": {"field": "x", "type": "quantitative", "scale": {"domain": [-15, 10], "nice": false, "zero": false}, "axis": {"values": [0], "labelExpr": "'−∞'", "title": null}}},
       "layer": [
        {"data": {"name": "L"}, "transform": [{"filter": "datum.p=='C'&&datum.g=='i'"}], "mark": {"type": "line", "strokeWidth": 2.5}, "encoding": {"y": {"field": "y", "type": "quantitative", "title": "% Classified Pial", "scale": {"domain": [0, 104.5], "nice": false, "zero": false}, "axis": {"values": [10,20,30,40,50,60,70,80,90,100], "labelExpr": "datum.value % 20 == 0 ? '' + datum.value : ''", "titlePadding": 0}}, "color": {"field":"s","type":"quantitative","scale":{"domain":[-100,-1,1,100],"range":["#b95b3b","#e5dadb","#d4ddf1","#4b6fc0"],"interpolate":"rgb"},"legend":null}, "strokeDash": {"field":"c","type":"nominal","scale":{"domain":["a","b","c","d"],"range":[[1,0],[1,0],[7,4],[7,4]]},"legend":null}, "detail": {"field": "r"}}},
        {"data": {"name": "E"}, "transform": [{"filter": "datum.p=='C'&&datum.g=='i'"}], "mark": {"type": "rule", "strokeWidth": 2.5}, "encoding": {"y": {"field": "lo", "type": "quantitative", "title": "% Classified Pial", "axis": {"values": [10,20,30,40,50,60,70,80,90,100], "labelExpr": "datum.value % 20 == 0 ? '' + datum.value : ''", "titlePadding": 0}}, "y2": {"field": "hi"}, "color": {"field":"s","type":"quantitative","legend":null}, "strokeDash": {"field":"c","type":"nominal","legend":null}}},
        {"data": {"name": "E"}, "transform": [{"filter": "datum.p=='C'&&datum.g=='i'"}], "mark": {"type": "tick", "orient": "horizontal", "size": 7, "thickness": 2.2}, "encoding": {"y": {"field": "lo", "type": "quantitative", "title": "% Classified Pial", "axis": {"values": [10,20,30,40,50,60,70,80,90,100], "labelExpr": "datum.value % 20 == 0 ? '' + datum.value : ''", "titlePadding": 0}}, "color": {"field":"s","type":"quantitative","legend":null}}},
        {"data": {"name": "E"}, "transform": [{"filter": "datum.p=='C'&&datum.g=='i'"}], "mark": {"type": "tick", "orient": "horizontal", "size": 7, "thickness": 2.2}, "encoding": {"y": {"field": "hi", "type": "quantitative", "title": "% Classified Pial", "axis": {"values": [10,20,30,40,50,60,70,80,90,100], "labelExpr": "datum.value % 20 == 0 ? '' + datum.value : ''", "titlePadding": 0}}, "color": {"field":"s","type":"quantitative","legend":null}}},
        {"data": {"name": "S"}, "transform": [{"filter": "datum.p=='C'&&datum.g=='i'"}], "mark": {"type": "text", "text": "*", "fontSize": 22, "dy": 5}, "encoding": {"y": {"field": "y", "type": "quantitative", "title": "% Classified Pial", "axis": {"values": [10,20,30,40,50,60,70,80,90,100], "labelExpr": "datum.value % 20 == 0 ? '' + datum.value : ''", "titlePadding": 0}}, "color": {"field":"s","type":"quantitative","legend":null}}},
        {"data": {"values": [{}]}, "mark": {"type": "rule", "color": "#555555", "strokeWidth": 1.2}, "encoding": {"x": {"datum": 10}}}
       ]
      },
      {
       "width": 250, "height": 241,
       "title": {"text": "MSP", "fontSize": 19, "anchor": "middle", "dx": -26, "offset": -8.5},
       "encoding": {"x": {"field": "x", "type": "quantitative", "scale": {"domain": [-110, 20], "nice": false, "zero": false}, "axis": {"values": [-100,-80,-60,-40,-20,0,20], "labelExpr": "indexof([-100,-60,-20,20], datum.value) >= 0 ? (datum.value < 0 ? '−' + (-datum.value) : '' + datum.value) : ''", "title": "SNR (dB)", "titleX": 97}}},
       "layer": [
        {"data": {"name": "L"}, "transform": [{"filter": "datum.p=='C'&&datum.g=='m'"}], "mark": {"type": "line", "strokeWidth": 2.5}, "encoding": {"y": {"field": "y", "type": "quantitative", "title": null, "scale": {"domain": [0, 104.5], "nice": false, "zero": false}, "axis": {"labels": false, "ticks": false, "domainColor": "#1a1a1a", "domainWidth": 1.2}}, "color": {"field":"s","type":"quantitative","scale":{"domain":[-100,-1,1,100],"range":["#b95b3b","#e5dadb","#d4ddf1","#4b6fc0"],"interpolate":"rgb"},"legend":null}, "strokeDash": {"field":"c","type":"nominal","scale":{"domain":["a","b","c","d"],"range":[[1,0],[1,0],[7,4],[7,4]]},"legend":null}, "detail": {"field": "r"}}},
        {"data": {"name": "E"}, "transform": [{"filter": "datum.p=='C'&&datum.g=='m'"}], "mark": {"type": "rule", "strokeWidth": 2.5}, "encoding": {"y": {"field": "lo", "type": "quantitative", "title": null}, "y2": {"field": "hi"}, "color": {"field":"s","type":"quantitative","legend":null}, "strokeDash": {"field":"c","type":"nominal","legend":null}}},
        {"data": {"name": "E"}, "transform": [{"filter": "datum.p=='C'&&datum.g=='m'"}], "mark": {"type": "tick", "orient": "horizontal", "size": 7, "thickness": 2.2}, "encoding": {"y": {"field": "lo", "type": "quantitative", "title": null}, "color": {"field":"s","type":"quantitative","legend":null}}},
        {"data": {"name": "E"}, "transform": [{"filter": "datum.p=='C'&&datum.g=='m'"}], "mark": {"type": "tick", "orient": "horizontal", "size": 7, "thickness": 2.2}, "encoding": {"y": {"field": "hi", "type": "quantitative", "title": null}, "color": {"field":"s","type":"quantitative","legend":null}}},
        {"data": {"name": "S"}, "transform": [{"filter": "datum.p=='C'&&datum.g=='m'"}], "mark": {"type": "text", "text": "*", "fontSize": 22, "dy": 5}, "encoding": {"y": {"field": "y", "type": "quantitative", "title": null}, "color": {"field":"s","type":"quantitative","legend":null}}}
       ]
      }
     ]
    },
    {
     "spacing": 0,
     "resolve": {"scale": {"strokeDash": "independent", "stroke": "independent"}},
     "hconcat": [
      {
       "width": 49, "height": 241,
       "title": {"text": "D)", "anchor": "start", "frame": "bounds", "fontSize": 20, "offset": 11, "dx": 5},
       "encoding": {"x": {"field": "x", "type": "quantitative", "scale": {"domain": [-15, 10], "nice": false, "zero": false}, "axis": {"values": [0], "labelExpr": "'−∞'", "title": null}}},
       "layer": [
        {"data": {"name": "L"}, "transform": [{"filter": "datum.p=='D'&&datum.g=='i'"}], "mark": {"type": "line", "strokeWidth": 2.5}, "encoding": {"y": {"field": "y", "type": "quantitative", "title": "% Correct", "scale": {"domain": [40, 104.4], "nice": false, "zero": false}, "axis": {"values": [50,60,70,80,90,100], "labelExpr": "datum.value % 20 == 0 ? '' + datum.value : ''", "titlePadding": -2}}, "color": {"field":"s","type":"quantitative","scale":{"domain":[-100,-1,1,100],"range":["#b95b3b","#e5dadb","#d4ddf1","#4b6fc0"],"interpolate":"rgb"},"legend":null}, "strokeDash": {"field":"c","type":"nominal","scale":{"domain":["a","b","c","d"],"range":[[1,0],[1,0],[7,4],[7,4]]},"legend":null}, "detail": {"field": "r"}}},
        {"data": {"name": "E"}, "transform": [{"filter": "datum.p=='D'&&datum.g=='i'"}], "mark": {"type": "rule", "strokeWidth": 2.5}, "encoding": {"y": {"field": "lo", "type": "quantitative", "title": "% Correct", "axis": {"values": [50,60,70,80,90,100], "labelExpr": "datum.value % 20 == 0 ? '' + datum.value : ''", "titlePadding": -2}}, "y2": {"field": "hi"}, "color": {"field":"s","type":"quantitative","legend":null}, "strokeDash": {"field":"c","type":"nominal","legend":null}}},
        {"data": {"name": "E"}, "transform": [{"filter": "datum.p=='D'&&datum.g=='i'"}], "mark": {"type": "tick", "orient": "horizontal", "size": 7, "thickness": 2.2}, "encoding": {"y": {"field": "lo", "type": "quantitative", "title": "% Correct", "axis": {"values": [50,60,70,80,90,100], "labelExpr": "datum.value % 20 == 0 ? '' + datum.value : ''", "titlePadding": -2}}, "color": {"field":"s","type":"quantitative","legend":null}}},
        {"data": {"name": "E"}, "transform": [{"filter": "datum.p=='D'&&datum.g=='i'"}], "mark": {"type": "tick", "orient": "horizontal", "size": 7, "thickness": 2.2}, "encoding": {"y": {"field": "hi", "type": "quantitative", "title": "% Correct", "axis": {"values": [50,60,70,80,90,100], "labelExpr": "datum.value % 20 == 0 ? '' + datum.value : ''", "titlePadding": -2}}, "color": {"field":"s","type":"quantitative","legend":null}}},
        {"data": {"values": [{}]}, "mark": {"type": "rule", "color": "#555555", "strokeWidth": 1.2}, "encoding": {"x": {"datum": 10}}}
       ]
      },
      {
       "width": 250, "height": 241,
       "title": {"text": "MSP", "fontSize": 19, "anchor": "middle", "dx": -26, "offset": -8.5},
       "encoding": {"x": {"field": "x", "type": "quantitative", "scale": {"domain": [-110, 20], "nice": false, "zero": false}, "axis": {"values": [-100,-80,-60,-40,-20,0,20], "labelExpr": "indexof([-100,-60,-20,20], datum.value) >= 0 ? (datum.value < 0 ? '−' + (-datum.value) : '' + datum.value) : ''", "title": "SNR (dB)", "titleX": 97}}},
       "layer": [
        {"data": {"name": "L"}, "transform": [{"filter": "datum.p=='D'&&datum.g=='m'"}], "mark": {"type": "line", "strokeWidth": 2.5}, "encoding": {"y": {"field": "y", "type": "quantitative", "title": null, "scale": {"domain": [40, 104.4], "nice": false, "zero": false}, "axis": {"labels": false, "ticks": false, "domainColor": "#1a1a1a", "domainWidth": 1.2}}, "color": {"field":"s","type":"quantitative","scale":{"domain":[-100,-1,1,100],"range":["#b95b3b","#e5dadb","#d4ddf1","#4b6fc0"],"interpolate":"rgb"},"legend":null}, "strokeDash": {"field":"c","type":"nominal","scale":{"domain":["a","b","c","d"],"range":[[1,0],[1,0],[7,4],[7,4]]},"legend":null}, "detail": {"field": "r"}}},
        {"data": {"name": "E"}, "transform": [{"filter": "datum.p=='D'&&datum.g=='m'"}], "mark": {"type": "rule", "strokeWidth": 2.5}, "encoding": {"y": {"field": "lo", "type": "quantitative", "title": null}, "y2": {"field": "hi"}, "color": {"field":"s","type":"quantitative","legend":null}, "strokeDash": {"field":"c","type":"nominal","legend":null}}},
        {"data": {"name": "E"}, "transform": [{"filter": "datum.p=='D'&&datum.g=='m'"}], "mark": {"type": "tick", "orient": "horizontal", "size": 7, "thickness": 2.2}, "encoding": {"y": {"field": "lo", "type": "quantitative", "title": null}, "color": {"field":"s","type":"quantitative","legend":null}}},
        {"data": {"name": "E"}, "transform": [{"filter": "datum.p=='D'&&datum.g=='m'"}], "mark": {"type": "tick", "orient": "horizontal", "size": 7, "thickness": 2.2}, "encoding": {"y": {"field": "hi", "type": "quantitative", "title": null}, "color": {"field":"s","type":"quantitative","legend":null}}},
        {"data": {"name": "S"}, "transform": [{"filter": "datum.p=='D'&&datum.g=='m'"}], "mark": {"type": "text", "text": "*", "fontSize": 22, "dy": 5}, "encoding": {"y": {"field": "y", "type": "quantitative", "title": null}, "color": {"field":"s","type":"quantitative","legend":null}}}
       ]
      }
     ]
    }
   ]
  }
 ]
}
